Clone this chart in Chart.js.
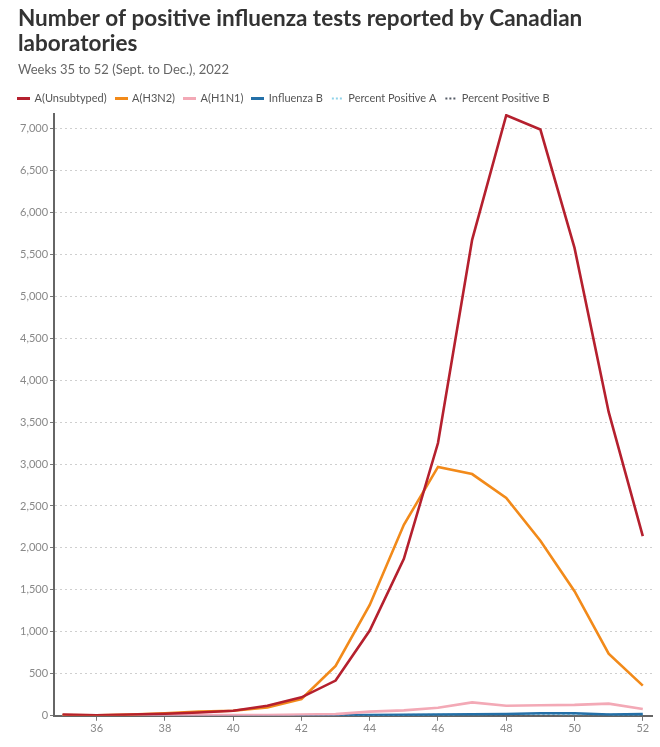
<!DOCTYPE html>
<html><head><meta charset="utf-8">
<script src="https://cdn.jsdelivr.net/npm/chart.js@4"></script>
<style>html,body{margin:0;padding:0;background:#fff}#wrap{width:660px;height:747px;position:relative}</style>
</head><body><div id="wrap"><canvas id="c"></canvas></div>
<script>
const weeks = [35,36,37,38,39,40,41,42,43,44,45,46,47,48,49,50,51,52];
const unsubtyped = [15,5,15,25,40,60,120,220,420,1015,1870,3250,5670,7155,6985,5575,3620,2140];
const h3n2 = [10,5,15,30,50,60,100,200,595,1320,2275,2965,2880,2595,2085,1485,740,360];
const h1n1 = [5,3,5,5,8,10,10,15,20,50,65,95,160,120,125,130,145,80];
const fluB = [3,2,2,3,3,4,5,6,8,10,12,15,18,22,30,30,15,20];
const pctPosA = [0.5,0.6,0.8,1,1.3,1.8,2.5,3.5,5,8,11,15,19,22,21,19,17,15];
const pctPosB = [0.1,0.1,0.1,0.1,0.1,0.1,0.1,0.1,0.1,0.2,0.2,0.2,0.3,0.3,0.4,0.4,0.4,0.5];
const xTicks = [36,38,40,42,44,46,48,50,52];
const yTicks = [0,500,1000,1500,2000,2500,3000,3500,4000,4500,5000,5500,6000,6500,7000];

function icon(color, dotted){
  const c = document.createElement('canvas'); c.width = 13; c.height = 3;
  const g = c.getContext('2d'); g.fillStyle = color;
  if (dotted) { for (let x = 1; x < 13; x += 4) g.fillRect(x, 0.5, 2, 2); }
  else g.fillRect(0, 0, 13, 3);
  return c;
}
const shiftLegend = {
  id:'shiftLegend',
  afterLayout(chart){ if (chart.legend) { chart.legend.left -= 9; chart.legend.right -= 9; } }
};
const pts = arr => arr.map((v,i)=>({x:weeks[i], y:v}));
const base = {fill:false, pointRadius:0, pointHoverRadius:0, tension:0, borderWidth:2.6};
const FONT = "Lato";
new Chart(document.getElementById('c'), {
  type:'line',
  data:{datasets:[
    {...base, label:'A(Unsubtyped)', data:pts(unsubtyped), borderColor:'#b5202e', backgroundColor:'#b5202e', pointStyle:icon('#b5202e')},
    {...base, label:'A(H3N2)', data:pts(h3n2), borderColor:'#f28a1a', backgroundColor:'#f28a1a', pointStyle:icon('#f28a1a')},
    {...base, label:'A(H1N1)', data:pts(h1n1), borderColor:'#f3a9b6', backgroundColor:'#f3a9b6', pointStyle:icon('#f3a9b6')},
    {...base, label:'Influenza B', data:pts(fluB), borderColor:'#2470a8', backgroundColor:'#2470a8', pointStyle:icon('#2470a8')},
    {...base, label:'Percent Positive A', data:pts(pctPosA), borderColor:'#8fd3ea', backgroundColor:'#8fd3ea', borderDash:[2,3], borderWidth:2, pointStyle:icon('#8fd3ea',true)},
    {...base, label:'Percent Positive B', data:pts(pctPosB), borderColor:'#555b66', backgroundColor:'#555b66', borderDash:[2,3], borderWidth:2, pointStyle:icon('#555b66',true)}
  ]},
  plugins:[shiftLegend],
  options:{
    responsive:true, maintainAspectRatio:false, animation:false,
    layout:{padding:{left:18,right:8,top:4,bottom:11}},
    plugins:{
      title:{display:true, align:'start', text:['Number of positive influenza tests reported by Canadian','laboratories'],
        color:'#333', font:{family:FONT, size:22.5, weight:'bold', lineHeight:1.12}, padding:{top:2,bottom:6}},
      subtitle:{display:true, align:'start', text:'Weeks 35 to 52 (Sept. to Dec.), 2022', color:'#666',
        font:{family:FONT, size:13}, padding:{bottom:6}},
      legend:{display:true, align:'start', labels:{usePointStyle:true, pointStyleWidth:11, boxHeight:7,
        color:'#555', font:{family:FONT, size:11}, padding:9}},
      tooltip:{enabled:false}
    },
    scales:{
      x:{type:'linear', min:34.75, max:52.27,
        ticks:{color:'#888', font:{family:FONT, size:11}, padding:1, maxRotation:0},
        afterBuildTicks: s => { s.ticks = xTicks.map(v=>({value:v})); },
        grid:{drawOnChartArea:false, drawTicks:true, tickLength:5, color:'#777'},
        border:{display:true, color:'#666', width:2}},
      y:{min:0, max:7170,
        ticks:{color:'#888', font:{family:FONT, size:11}, padding:2,
          callback:v=>v.toLocaleString('en-US')},
        afterBuildTicks: s => { s.ticks = yTicks.map(v=>({value:v})); },
        grid:{color:'#cfcfcf', lineWidth:1, tickLength:4, tickColor:'#777', tickBorderDash:[]},
        border:{display:true, color:'#666', width:2, dash:[2,3]}}
    }
  }
});
</script></body></html>
